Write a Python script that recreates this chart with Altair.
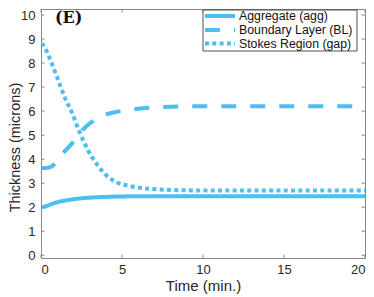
import altair as alt
import pandas as pd

# ---- data ----
agg_t = [0, 0.3, 0.6, 1.0, 1.6, 2.2, 3.0, 4.0, 5.0, 7.0, 10.0, 15.0, 20.0]
agg_v = [2.00, 2.04, 2.12, 2.21, 2.29, 2.35, 2.40, 2.43, 2.45, 2.46, 2.46, 2.46, 2.46]

bl_t = [0, 0.3, 0.6, 0.8, 1.0, 1.4, 2.0, 2.5, 3.2, 4.0, 5.0, 6.0, 7.0, 8.0, 10.0, 15.0, 20.0]
bl_v = [3.63, 3.63, 3.68, 3.78, 3.93, 4.28, 4.72, 5.17, 5.58, 5.86, 6.01, 6.10, 6.15, 6.18, 6.20, 6.20, 6.20]

gap_t = [0, 0.12, 0.5, 1.0, 1.48, 1.87, 2.4, 2.92, 3.44, 4.0, 4.67, 5.5, 6.5, 8.0, 10.0, 15.0, 20.0]
gap_v = [8.80, 8.76, 8.25, 7.40, 6.55, 6.00, 5.10, 4.35, 3.80, 3.35, 3.04, 2.88, 2.78, 2.72, 2.70, 2.70, 2.70]

series_names = ["Aggregate (agg)", "Boundary Layer (BL)", "Stokes Region (gap)"]
series_dash = [[1, 0], [15, 14], [4, 3.3]]

x_ticks = [0, 5, 10, 15, 20]
y_ticks = [0, 1, 2, 3, 4, 5, 6, 7, 8, 9, 10]

COLOR = "#4DBEEE"
W, H = 324, 249
FONT = "Liberation Sans"

rows = []
for name, ts, vs in zip(series_names, [agg_t, bl_t, gap_t], [agg_v, bl_v, gap_v]):
    for t, v in zip(ts, vs):
        rows.append({"series": name, "t": t, "v": v})
df = pd.DataFrame(rows)

xscale = alt.Scale(domain=[0, 20], nice=False, zero=False)
yscale = alt.Scale(domain=[-0.112, 10.25], nice=False, zero=False)

x_axis = alt.Axis(values=x_ticks, title="Time (min.)", grid=False, ticks=False,
                  domain=False, labelFontSize=13, labelFont=FONT, labelColor="#262626",
                  labelPadding=5, labelOverlap=False,
                  titleFont=FONT, titleFontSize=15, titleFontWeight="normal",
                  titleColor="#262626", titleX=162, titleY=27, titleBaseline="middle",
                  titleAlign="center")
y_axis = alt.Axis(values=y_ticks, title="Thickness (microns)", grid=False, ticks=False,
                  domain=False, labelFontSize=13, labelFont=FONT, labelColor="#262626",
                  labelPadding=6, labelOverlap=False,
                  titleFont=FONT, titleFontSize=14.5, titleFontWeight="normal",
                  titleColor="#262626", titleX=-26, titleY=138, titleAngle=-90,
                  titleBaseline="middle", titleAlign="center")

lines = alt.Chart(df).mark_line(
    color=COLOR, strokeWidth=4, strokeCap="butt", interpolate="monotone"
).encode(
    x=alt.X("t:Q", scale=xscale, axis=x_axis),
    y=alt.Y("v:Q", scale=yscale, axis=y_axis),
    strokeDash=alt.StrokeDash("series:N",
                              scale=alt.Scale(domain=series_names, range=series_dash),
                              legend=None),
    detail="series:N",
)

# inward MATLAB-style ticks on all four sides
xt = pd.DataFrame({"t": x_ticks})
yt = pd.DataFrame({"v": y_ticks})
TL = 3.5
tick_style = dict(color="#888888", strokeWidth=1)

xb = alt.Chart(xt).mark_rule(**tick_style).encode(
    x=alt.X("t:Q", scale=xscale, axis=x_axis), y=alt.value(H), y2=alt.value(H - TL))
xtop = alt.Chart(xt).mark_rule(**tick_style).encode(
    x=alt.X("t:Q", scale=xscale, axis=x_axis), y=alt.value(0), y2=alt.value(TL))
yl = alt.Chart(yt).mark_rule(**tick_style).encode(
    y=alt.Y("v:Q", scale=yscale, axis=y_axis), x=alt.value(0), x2=alt.value(TL))
yr = alt.Chart(yt).mark_rule(**tick_style).encode(
    y=alt.Y("v:Q", scale=yscale, axis=y_axis), x=alt.value(W), x2=alt.value(W - TL))

# ---- legend (manual, MATLAB style) ----
dummy = pd.DataFrame({"a": [0]})
leg_layers = [
    alt.Chart(dummy).mark_rect(fill="white", stroke="#262626", strokeWidth=0.8).encode(
        x=alt.value(162), x2=alt.value(316), y=alt.value(1), y2=alt.value(42))
]
row_y = [7, 21, 34.5]
for name, dash, ry in zip(series_names, series_dash, row_y):
    leg_layers.append(
        alt.Chart(dummy).mark_rule(strokeWidth=4, color=COLOR, strokeCap="butt",
                                   strokeDash=dash).encode(
            x=alt.value(164), x2=alt.value(194), y=alt.value(ry))
    )
    leg_layers.append(
        alt.Chart(pd.DataFrame({"label": [name]})).mark_text(
            align="left", baseline="middle", font=FONT, fontSize=12.3, color="#111111"
        ).encode(x=alt.value(198), y=alt.value(ry), text="label:N")
    )

panel = alt.Chart(pd.DataFrame({"label": ["(E)"]})).mark_text(
    align="left", baseline="middle", font="DejaVu Serif", fontWeight="bold", fontSize=16,
    color="#111111"
).encode(x=alt.value(14), y=alt.value(9), text="label:N")

chart = alt.layer(
    lines, xb, xtop, yl, yr, *leg_layers, panel
).properties(
    width=W, height=H,
    autosize=alt.AutoSizeParams(type="none"),
    padding={"left": 33, "top": 1, "right": 1, "bottom": 40},
).configure_view(
    stroke="#888888", strokeWidth=1
)

chart.save("out.html", embed_options={"renderer": "svg", "actions": False})
